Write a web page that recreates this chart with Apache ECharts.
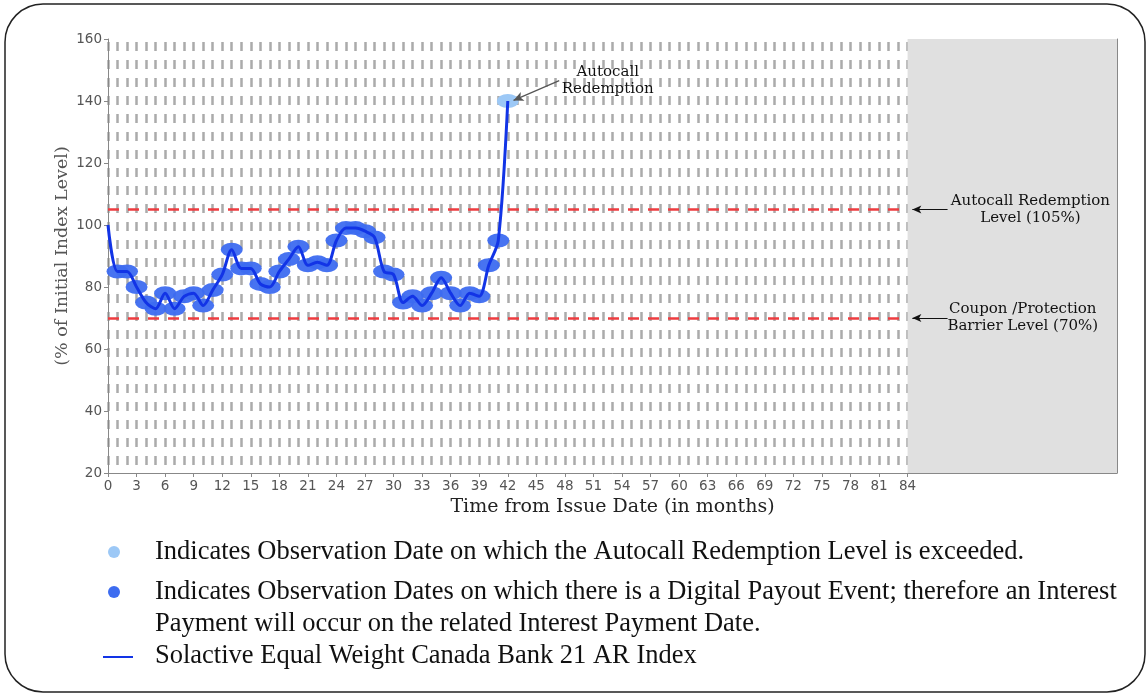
<!DOCTYPE html>
<html>
<head>
<meta charset="utf-8">
<script src="https://cdn.jsdelivr.net/npm/echarts@6/dist/echarts.min.js"></script>
<style>
html,body{margin:0;padding:0;background:#fff;}
#chart{width:1146px;height:694px;}
</style>
</head>
<body>
<div id="chart"></div>
<script>
// ---- data ----
const months = [0,1,2,3,4,5,6,7,8,9,10,11,12,13,14,15,16,17,18,19,20,21,22,23,24,25,26,27,28,29,30,31,32,33,34,35,36,37,38,39,40,41,42];
const indexLevel = [100,85,85,80,75,73,78,73,77,78,74,79,84,92,86,86,81,80,85,89,93,87,88,87,95,99,99,98,96,85,84,75,77,74,78,83,78,74,78,77,87,95,140];
const payoutMonths = [1,2,3,4,5,6,7,8,9,10,11,12,13,14,15,16,17,18,19,20,21,22,23,24,25,26,27,28,29,30,31,32,33,34,35,36,37,38,39,40,41];
const autocallMonths = [42];
const xTickLabels = [0,3,6,9,12,15,18,21,24,27,30,33,36,39,42,45,48,51,54,57,60,63,66,69,72,75,78,81,84];
const yTickLabels = [20,40,60,80,100,120,140,160];
const autocallLevel = 105;
const barrierLevel = 70;
const termMonths = 84;
const axisEndMonths = 106;

const valueAt = m => indexLevel[months.indexOf(m)];
const lineData = months.map((m, i) => [m, indexLevel[i]]);
const payoutData = payoutMonths.map(m => [m, valueAt(m)]);
const autocallData = autocallMonths.map(m => [m, valueAt(m)]);

const chart = echarts.init(document.getElementById('chart'), null, {renderer: 'canvas'});

const serif = 'DejaVu Serif';
const sans = 'DejaVu Sans';
const gridDash = {color: '#ababab', width: 2.5, type: [9, 9], dashOffset: 15};

const option = {
  animation: false,
  backgroundColor: '#fff',
  grid: {left: 108, top: 39, right: 29, bottom: 221},
  xAxis: {
    type: 'value', min: 0, max: axisEndMonths, interval: 3,
    name: 'Time from Issue Date (in months)',
    nameLocation: 'middle', nameGap: 25, nameMoveOverlap: false,
    nameTextStyle: {fontFamily: serif, fontSize: 19, color: '#222'},
    axisLine: {show: true, onZero: false, lineStyle: {color: '#888', width: 1}},
    axisTick: {show: true, length: 4, lineStyle: {color: '#888'}, customValues: xTickLabels},
    axisLabel: {fontFamily: sans, fontSize: 13.5, color: '#555', margin: 6, customValues: xTickLabels},
    splitLine: {show: true, lineStyle: gridDash},
    minorTick: {show: false, splitNumber: 3},
    minorSplitLine: {show: true, lineStyle: gridDash}
  },
  yAxis: [{
    type: 'value', min: 20, max: 160, interval: 20,
    name: '(% of Initial Index Level)',
    nameLocation: 'middle', nameGap: 37, nameMoveOverlap: false,
    nameTextStyle: {fontFamily: serif, fontSize: 17.5, color: '#555'},
    axisLine: {show: true, lineStyle: {color: '#888', width: 1}},
    axisTick: {show: true, length: 4, lineStyle: {color: '#888'}},
    axisLabel: {fontFamily: sans, fontSize: 13.5, color: '#555', margin: 6},
    splitLine: {show: false}
  }, {
    type: 'value', min: 20, max: 160, interval: 20, position: 'right',
    axisLine: {show: true, lineStyle: {color: '#888', width: 1}},
    axisTick: {show: false}, axisLabel: {show: false}, splitLine: {show: false}
  }],
  series: [
    {
      type: 'scatter', name: 'grey', data: [], z: 1,
      markArea: {
        silent: true,
        itemStyle: {color: '#e0e0e0', opacity: 1},
        data: [[{xAxis: termMonths}, {xAxis: axisEndMonths}]]
      }
    },
    {
      type: 'scatter', name: 'Digital Payout', data: payoutData, z: 3,
      symbol: 'circle', symbolSize: [22, 14],
      itemStyle: {color: '#3d6cf0', opacity: 0.95}
    },
    {
      type: 'scatter', name: 'Autocall', data: autocallData, z: 3,
      symbol: 'circle', symbolSize: [22, 14],
      itemStyle: {color: '#9cc8f6', opacity: 1}
    },
    {
      type: 'line', name: 'Index', data: lineData, z: 4,
      smooth: 0.3, showSymbol: false,
      lineStyle: {color: '#1234e6', width: 3},
      markLine: {
        silent: true, animation: false,
        label: {show: false},
        data: [
          [{coord: [0, autocallLevel], symbol: 'none', lineStyle: {color: '#ee3c40', width: 2.5, type: [11, 9]}}, {coord: [termMonths, autocallLevel], symbol: 'none'}],
          [{coord: [0, barrierLevel], symbol: 'none', lineStyle: {color: '#ee3c40', width: 2.5, type: [11, 9]}}, {coord: [termMonths, barrierLevel], symbol: 'none'}],
          [{coord: [88.2, autocallLevel], symbol: 'none', lineStyle: {color: '#111', width: 1, type: 'solid'}}, {coord: [84.5, autocallLevel], symbol: 'arrow', symbolSize: [6, 9]}],
          [{coord: [88.2, barrierLevel], symbol: 'none', lineStyle: {color: '#111', width: 1, type: 'solid'}}, {coord: [84.5, barrierLevel], symbol: 'arrow', symbolSize: [6, 9]}],
          [{coord: [47.4, 146.6], symbol: 'none', lineStyle: {color: '#555', width: 1.3, type: 'solid'}}, {coord: [42.6, 140.2], symbol: 'arrow', symbolSize: [7, 10]}]
        ]
      }
    }
  ]
};
chart.setOption(option);

// annotation texts placed via data coordinates
function px(x, y) { return chart.convertToPixel({gridIndex: 0}, [x, y]); }
const pA = px(52.5, 146.5);
const pR = px(96.9, autocallLevel);
const pB = px(96.1, barrierLevel);

const annText = (p, txt) => ({
  type: 'text', x: p[0], y: p[1], z: 10,
  style: {text: txt, fontFamily: serif, fontSize: 15, fill: '#111', align: 'center', verticalAlign: 'middle', lineHeight: 17}
});

const legendFont = 'Liberation Serif';
const legendSize = 26.5;
const graphics = [
  {type: 'rect', z: -1, shape: {x: 5, y: 4, width: 1140, height: 688, r: 38}, style: {fill: 'none', stroke: '#222', lineWidth: 1.5}},
  annText(pA, 'Autocall\nRedemption'),
  annText(pR, 'Autocall Redemption\nLevel (105%)'),
  annText(pB, 'Coupon /Protection\nBarrier Level (70%)'),
  {type: 'circle', shape: {cx: 114, cy: 552, r: 6}, style: {fill: '#9cc8f6'}},
  {type: 'circle', shape: {cx: 114, cy: 592, r: 6}, style: {fill: '#3d6cf0'}},
  {type: 'line', shape: {x1: 103, y1: 657, x2: 133, y2: 657}, style: {stroke: '#1234e6', lineWidth: 2}},
  {type: 'text', x: 155, y: 552, style: {text: 'Indicates Observation Date on which the Autocall Redemption Level is exceeded.', fontFamily: legendFont, fontSize: legendSize, fill: '#111', verticalAlign: 'middle'}},
  {type: 'text', x: 155, y: 592, style: {text: 'Indicates Observation Dates on which there is a Digital Payout Event; therefore an Interest', fontFamily: legendFont, fontSize: legendSize, fill: '#111', verticalAlign: 'middle'}},
  {type: 'text', x: 155, y: 624, style: {text: 'Payment will occur on the related Interest Payment Date.', fontFamily: legendFont, fontSize: legendSize, fill: '#111', verticalAlign: 'middle'}},
  {type: 'text', x: 155, y: 656, style: {text: 'Solactive Equal Weight Canada Bank 21 AR Index', fontFamily: legendFont, fontSize: legendSize, fill: '#111', verticalAlign: 'middle'}}
];
chart.setOption({graphic: graphics});
</script>
</body>
</html>
